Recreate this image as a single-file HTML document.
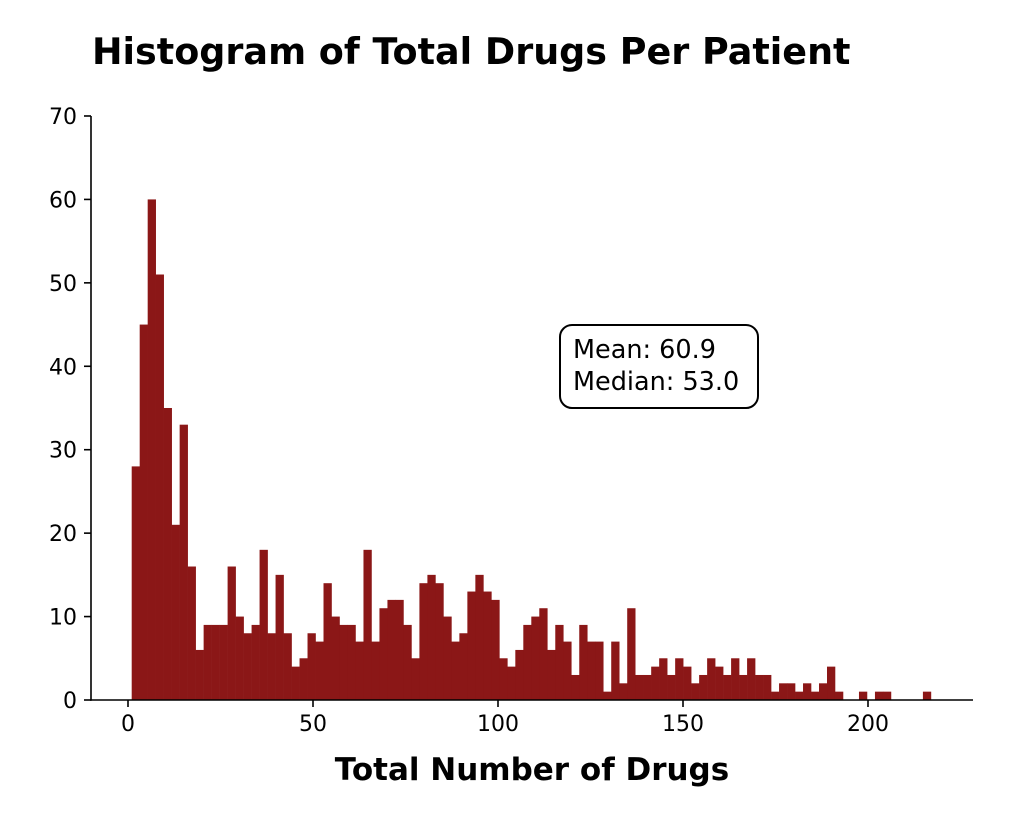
<!DOCTYPE html>
<html><head><meta charset="utf-8"><style>
body{margin:0;background:#fff;}
svg{display:block;font-family:"Liberation Sans","DejaVu Sans",sans-serif;}
</style></head><body>
<svg id="chart" width="1014" height="820" viewBox="0 0 1014 820" xmlns="http://www.w3.org/2000/svg">
<text x="92" y="64" font-size="36.5" font-weight="bold" fill="#000" font-family="DejaVu Sans, sans-serif">Histogram of Total Drugs Per Patient</text>
<g id="bars"></g>
<g id="axes"></g>
<text x="532" y="780" font-size="31" font-weight="bold" text-anchor="middle" font-family="DejaVu Sans, sans-serif">Total Number of Drugs</text>
<g>
<rect x="560" y="325" width="198" height="83" rx="12" fill="#fff" stroke="#000" stroke-width="2"/>
<text x="573" y="358" font-size="25.5" font-family="DejaVu Sans, sans-serif">Mean: 60.9</text>
<text x="573" y="390" font-size="25.5" font-family="DejaVu Sans, sans-serif">Median: 53.0</text>
</g>
</svg>
<script>
const binStart = 1;
const binWidth = 2.16;
const counts = [28,45,60,51,35,21,33,16,6,9,9,9,16,10,8,9,18,8,15,8,4,5,8,7,14,10,9,9,7,18,7,11,12,12,9,5,14,15,14,10,7,8,13,15,13,12,5,4,6,9,10,11,6,9,7,3,9,7,7,1,7,2,11,3,3,4,5,3,5,4,2,3,5,4,3,5,3,5,3,3,1,2,2,1,2,1,2,4,1,0,0,1,0,1,1,0,0,0,0,1];
const xTicks = [0,50,100,150,200];
const yTicks = [0,10,20,30,40,50,60,70];

const NS = "http://www.w3.org/2000/svg";
const xs = v => 128 + 3.7 * v;
const ys = v => 700 - 8.343 * v;
const bars = document.getElementById('bars');
counts.forEach((c, i) => {
  if (c <= 0) return;
  const r = document.createElementNS(NS, 'rect');
  const x0 = xs(binStart + i * binWidth), x1 = xs(binStart + (i + 1) * binWidth);
  r.setAttribute('x', x0); r.setAttribute('width', x1 - x0 + 0.3);
  r.setAttribute('y', ys(c)); r.setAttribute('height', ys(0) - ys(c));
  r.setAttribute('fill', '#8b1717');
  
  
  bars.appendChild(r);
});
const axes = document.getElementById('axes');
function line(x1, y1, x2, y2, name) {
  const l = document.createElementNS(NS, 'line');
  l.setAttribute('x1', x1); l.setAttribute('y1', y1); l.setAttribute('x2', x2); l.setAttribute('y2', y2);
  l.setAttribute('stroke', '#000'); l.setAttribute('stroke-width', '1.6');
  
  
  axes.appendChild(l);
}
function text(x, y, s, anchor, name) {
  const t = document.createElementNS(NS, 'text');
  t.setAttribute('x', x); t.setAttribute('y', y); t.setAttribute('font-size', '22');
  t.setAttribute('text-anchor', anchor); t.setAttribute('font-family', 'DejaVu Sans, sans-serif');
  t.textContent = s;
  
  
  axes.appendChild(t);
}
line(91, 116, 91, 700.8, 'y-axis-line');
line(90.2, 700, 973, 700, 'x-axis-line');
xTicks.forEach(v => { line(xs(v), 700, xs(v), 707, 'x-tick'); text(xs(v), 731, String(v), 'middle', 'x-tick-label'); });
yTicks.forEach(v => { line(84, ys(v), 91, ys(v), 'y-tick'); text(77, ys(v) + 8, String(v), 'end', 'y-tick-label'); });
</script>
</body></html>
